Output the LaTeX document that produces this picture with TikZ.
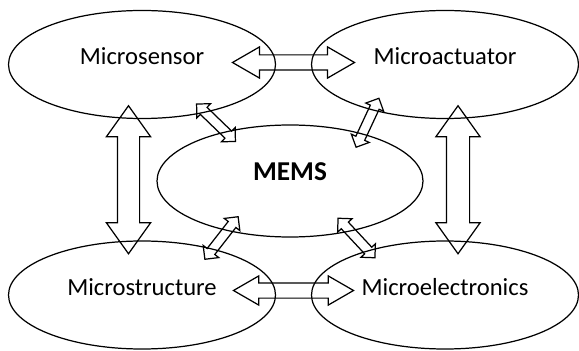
\documentclass[tikz,border=0pt]{standalone}
\usepackage{fontspec}
\setmainfont{Carlito}
\usetikzlibrary{calc,shapes.geometric,shapes.arrows}

\begin{document}
\begin{tikzpicture}[
  blob/.style={ellipse, draw, line width=0.7pt, minimum width=5.34cm,
    minimum height=2.16cm, inner sep=0pt, text height=0.3cm,
    text depth=0.3cm, font=\fontsize{14}{16}\selectfont},
  darrow/.style={double arrow, draw, line width=0.7pt, inner sep=0pt,
    text depth=0pt},
  smallarrow/.style={darrow, minimum height=1.08cm, text height=0.17cm,
    double arrow head extend=0.1cm, double arrow tip angle=90}
]
\useasboundingbox (0,0) rectangle (11.58,-7.02);

\def\lx{2.84}   % x of left column
\def\rx{8.90}   % x of right column
\def\ty{-1.29}  % y of top row
\def\by{-5.90}  % y of bottom row

% ---- the four outer parts
\foreach \name/\x/\y/\txt in {sensor/\lx/\ty/Microsensor,
  actuator/\rx/\ty/Microactuator, structure/\lx/\by/Microstructure,
  electronics/\rx/\by/Microelectronics}{
  \node[blob] (\name) at (\x,\y) {\txt};
}

% ---- the centre
\node[blob, minimum width=5.32cm, minimum height=2.24cm,
      font=\bfseries\fontsize{15.5}{18}\selectfont] (mems) at (5.80,-3.62)
  {MEMS};

% ---- horizontal links
\node[darrow, minimum height=2.44cm, text height=0.28cm,
      double arrow head extend=0.16cm, double arrow tip angle=60]
  (sensor-actuator) at ($(sensor)!0.5!(actuator)+(0,0.04)$) {};
\node[darrow, minimum height=2.40cm, text height=0.28cm,
      double arrow head extend=0.14cm, double arrow tip angle=60]
  (structure-electronics) at ($(structure)!0.5!(electronics)+(0,0.09)$) {};

% ---- vertical links
\node[darrow, rotate=90, minimum height=2.96cm, text height=0.42cm,
      double arrow head extend=0.22cm, double arrow tip angle=71]
  (sensor-structure) at ($(sensor)!0.5!(structure)+(-0.27,0)$) {};
\node[darrow, rotate=90, minimum height=2.96cm, text height=0.44cm,
      double arrow head extend=0.21cm, double arrow tip angle=71]
  (actuator-electronics) at ($(actuator)!0.5!(electronics)+(0.26,0)$) {};

% ---- links to the centre
\foreach \a/\ang/\dx in {sensor/-44/0, actuator/65/0, structure/52/0.11,
  electronics/-47/-0.22}{
  \node[smallarrow, rotate=\ang] (\a-mems) at ($(\a)!0.5!(mems)+(\dx,0)$) {};
}

\end{tikzpicture}
\end{document}
